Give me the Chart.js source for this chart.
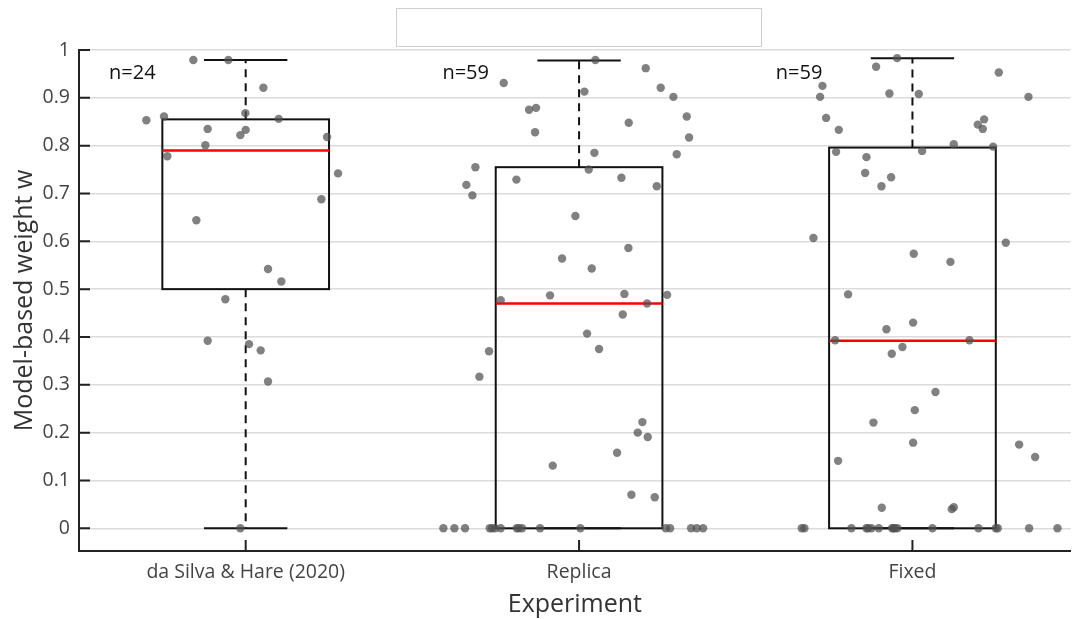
<!DOCTYPE html>
<html>
<head>
<meta charset="utf-8">
<script src="https://cdn.jsdelivr.net/npm/chart.js@4.4.1/dist/chart.umd.min.js"></script>
<style>
  html, body { margin: 0; padding: 0; background: #fff; }
  #wrap { position: relative; width: 1075px; height: 619px; }
  #legend-box { position: absolute; left: 396px; top: 8px; width: 364px; height: 37px; border: 1.5px solid #cfcfcf; background: #fff; }
</style>
</head>
<body>
<div id="wrap">
  <canvas id="chart" width="1075" height="619"></canvas>
  <div id="legend-box"></div>
</div>
<script>
// categories and tick labels
var categories = ['da Silva & Hare (2020)', 'Replica', 'Fixed'];
var nCounts = [24, 59, 59];
var yTickValues = [0, 0.1, 0.2, 0.3, 0.4, 0.5, 0.6, 0.7, 0.8, 0.9, 1];
var yTickLabels = ['0', '0.1', '0.2', '0.3', '0.4', '0.5', '0.6', '0.7', '0.8', '0.9', '1'];

// box statistics per experiment
var boxMin = [0, 0, 0];
var boxQ1 = [0.5, 0, 0];
var boxMedian = [0.79, 0.47, 0.392];
var boxQ3 = [0.855, 0.755, 0.796];
var boxMax = [0.979, 0.978, 0.983];

// individual weights (w) and horizontal jitter around each category
var dasilvaW = [0.979, 0.979, 0.921, 0.853, 0.861, 0.868, 0.856, 0.835, 0.833, 0.822, 0.818, 0.801,
    0.778, 0.742, 0.688, 0.644, 0.542, 0.516, 0.479, 0.392, 0.385, 0.372, 0.307, 0.0];
var dasilvaJitter = [-0.157, -0.052, 0.053, -0.298, -0.245, -0.001, 0.099, -0.114, 0.0, -0.016, 0.244, -0.121,
    -0.235, 0.277, 0.227, -0.148, 0.067, 0.107, -0.061, -0.114, 0.010, 0.045, 0.067, -0.016];

var replicaW = [0.979, 0.962, 0.931, 0.913, 0.921, 0.902, 0.875, 0.879, 0.861, 0.848, 0.828, 0.817,
    0.785, 0.782, 0.755, 0.750, 0.733, 0.729, 0.718, 0.715, 0.696, 0.653, 0.586, 0.564, 0.543,
    0.477, 0.487, 0.490, 0.470, 0.488, 0.447, 0.407, 0.375, 0.370, 0.317, 0.222, 0.200, 0.191,
    0.158, 0.131, 0.070, 0.065,
    0, 0, 0, 0, 0, 0, 0, 0, 0, 0, 0, 0, 0, 0, 0, 0, 0];
var replicaJitter = [0.049, 0.200, -0.226, 0.016, 0.245, 0.283, -0.150, -0.129, 0.323, 0.149, -0.132, 0.330,
    0.046, 0.293, -0.311, 0.029, 0.127, -0.188, -0.338, 0.233, -0.320, -0.011, 0.148, -0.051, 0.038,
    -0.235, -0.087, 0.136, 0.204, 0.264, 0.131, 0.024, 0.060, -0.270, -0.299, 0.190, 0.176, 0.206,
    0.114, -0.079, 0.157, 0.227,
    -0.407, -0.374, -0.342, -0.268, -0.261, -0.252, -0.235, -0.187, -0.181, -0.171, -0.117, 0.004,
    0.260, 0.273, 0.336, 0.353, 0.372];

var fixedW = [0.983, 0.965, 0.953, 0.925, 0.902, 0.909, 0.908, 0.902, 0.858, 0.855, 0.844, 0.835,
    0.833, 0.803, 0.798, 0.787, 0.789, 0.776, 0.743, 0.734, 0.715, 0.607, 0.597, 0.574, 0.557,
    0.489, 0.393, 0.393, 0.416, 0.430, 0.379, 0.365, 0.285, 0.247, 0.221, 0.175, 0.179, 0.149,
    0.141, 0.043, 0.044, 0.040,
    0, 0, 0, 0, 0, 0, 0, 0, 0, 0, 0, 0, 0, 0, 0, 0, 0];
var fixedJitter = [-0.046, -0.109, 0.259, -0.270, -0.277, -0.069, 0.019, 0.348, -0.259, 0.215, 0.196, 0.211,
    -0.221, 0.124, 0.242, -0.229, 0.029, -0.138, -0.142, -0.064, -0.093, -0.297, 0.280, 0.004, 0.114,
    -0.193, -0.232, 0.171, -0.078, 0.002, -0.030, -0.062, 0.069, 0.007, -0.117, 0.320, 0.002, 0.368,
    -0.223, -0.092, 0.124, 0.118,
    -0.332, -0.324, -0.183, -0.138, -0.133, -0.123, -0.101, -0.061, -0.057, -0.053, -0.045, 0.060,
    0.198, 0.250, 0.256, 0.350, 0.435];

function toPoints(ws, jit, pos) {
    return ws.map(function(w, i) { return { x: pos + jit[i], y: w }; });
}

var FONT = 'Open Sans';

// boxes, whiskers, axis tick marks and n= labels
var boxPlugin = {
    id: 'boxes',
    beforeDatasetsDraw: function(chart) {
        var ctx = chart.ctx, xs = chart.scales.x, ys = chart.scales.y;
        ctx.save();
        categories.forEach(function(c, i) {
            var pos = i + 1;
            var cx = xs.getPixelForValue(pos);
            var left = xs.getPixelForValue(pos - 0.25), right = xs.getPixelForValue(pos + 0.25);
            var capL = xs.getPixelForValue(pos - 0.125), capR = xs.getPixelForValue(pos + 0.125);
            var pMin = ys.getPixelForValue(boxMin[i]), pQ1 = ys.getPixelForValue(boxQ1[i]);
            var pMed = ys.getPixelForValue(boxMedian[i]), pQ3 = ys.getPixelForValue(boxQ3[i]);
            var pMax = ys.getPixelForValue(boxMax[i]);

            ctx.strokeStyle = '#111';
            ctx.lineWidth = 2;
            ctx.setLineDash([8, 6]);
            ctx.beginPath();
            ctx.moveTo(cx, pQ3); ctx.lineTo(cx, pMax);
            if (pMin !== pQ1) { ctx.moveTo(cx, pQ1); ctx.lineTo(cx, pMin); }
            ctx.stroke();
            ctx.setLineDash([]);

            ctx.beginPath();
            ctx.moveTo(capL, pMax); ctx.lineTo(capR, pMax);
            ctx.moveTo(capL, pMin); ctx.lineTo(capR, pMin);
            ctx.stroke();

            ctx.strokeRect(left, pQ3, right - left, pQ1 - pQ3);

            ctx.strokeStyle = '#f00';
            ctx.lineWidth = 2.5;
            ctx.beginPath();
            ctx.moveTo(left, pMed); ctx.lineTo(right, pMed);
            ctx.stroke();
        });
        ctx.restore();
    },
    afterDatasetsDraw: function(chart) {
        var ctx = chart.ctx, xs = chart.scales.x, ys = chart.scales.y, area = chart.chartArea;
        ctx.save();
        ctx.strokeStyle = '#222';
        ctx.lineWidth = 2;
        ctx.beginPath();
        yTickValues.forEach(function(v) {
            var py = ys.getPixelForValue(v);
            ctx.moveTo(area.left, py); ctx.lineTo(area.left + 11, py);
        });
        categories.forEach(function(c, i) {
            var px = xs.getPixelForValue(i + 1);
            ctx.moveTo(px, area.bottom); ctx.lineTo(px, area.bottom - 11);
        });
        ctx.stroke();

        ctx.fillStyle = '#111';
        ctx.font = '20px "' + FONT + '"';
        ctx.textAlign = 'left';
        ctx.textBaseline = 'middle';
        nCounts.forEach(function(n, i) {
            ctx.fillText('n=' + n, xs.getPixelForValue(i + 1 - 0.41), ys.getPixelForValue(0.952));
        });
        ctx.restore();
    }
};

var pointStyle = {
    backgroundColor: 'rgba(80,80,80,0.72)',
    borderWidth: 0,
    pointRadius: 4.2,
    pointHoverRadius: 4.2
};

var ctx = document.getElementById('chart').getContext('2d');
var chart = new Chart(ctx, {
    type: 'scatter',
    data: {
        datasets: [
            Object.assign({ label: categories[0], data: toPoints(dasilvaW, dasilvaJitter, 1) }, pointStyle),
            Object.assign({ label: categories[1], data: toPoints(replicaW, replicaJitter, 2) }, pointStyle),
            Object.assign({ label: categories[2], data: toPoints(fixedW, fixedJitter, 3) }, pointStyle)
        ]
    },
    options: {
        responsive: false,
        animation: false,
        layout: { padding: { top: 50, right: 0, left: 0, bottom: 0 } },
        plugins: { legend: { display: false }, tooltip: { enabled: false } },
        scales: {
            x: {
                type: 'linear',
                min: 0.5,
                max: 3.475,
                afterBuildTicks: function(s) { s.ticks = [1, 2, 3].map(function(v) { return { value: v }; }); },
                afterFit: function(s) { s.height = 68; },
                grid: { display: false, drawTicks: false },
                border: { display: true, color: '#222', width: 2 },
                ticks: {
                    autoSkip: false, maxRotation: 0, padding: 10,
                    color: '#444', font: { family: FONT, size: 19.5 },
                    callback: function(v) { return categories[v - 1]; }
                },
                title: {
                    display: true, text: 'Experiment', color: '#333',
                    font: { family: FONT, size: 25 }, padding: { top: 0, bottom: -1 }
                }
            },
            y: {
                min: -0.0475,
                max: 1,
                afterBuildTicks: function(s) { s.ticks = yTickValues.map(function(v) { return { value: v }; }); },
                afterFit: function(s) { s.width = 79; },
                grid: { color: '#dcdcdc', lineWidth: 1.5, drawTicks: false },
                border: { display: true, color: '#222', width: 2 },
                ticks: {
                    padding: 9, color: '#444', font: { family: FONT, size: 19.5 },
                    callback: function(v, i) { return yTickLabels[i]; }
                },
                title: {
                    display: true, text: 'Model-based weight w', color: '#333',
                    font: { family: FONT, size: 25 }, padding: { top: 10, bottom: 0 }
                }
            }
        }
    },
    plugins: [boxPlugin]
});
</script>
</body>
</html>
